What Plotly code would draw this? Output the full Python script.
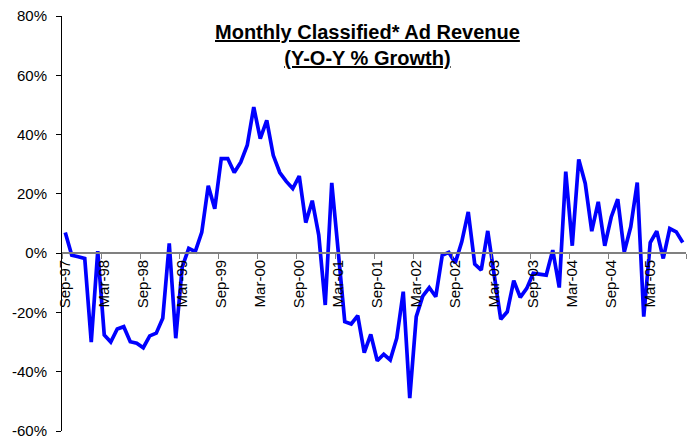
import plotly.graph_objects as go

month_names = ["Jan", "Feb", "Mar", "Apr", "May", "Jun", "Jul", "Aug", "Sep", "Oct", "Nov", "Dec"]
months = []
y, m = 1997, 8
for _ in range(96):
    months.append(f"{month_names[m]}-{str(y)[2:]}")
    m += 1
    if m == 12:
        m = 0
        y += 1

growth = [
    7.0, -0.7, -1.2, -1.8, -30.0, 0.7, -27.6, -30.0, -25.6, -24.8, -29.9, -30.4,
    -31.9, -27.9, -27.0, -22.0, 3.3, -28.7, -4.6, 1.6, 0.5, 7.0, 22.7, 15.0,
    31.9, 31.9, 27.2, 30.7, 36.4, 49.3, 38.6, 44.8, 33.0, 27.2, 24.2, 21.8,
    26.0, 10.3, 17.7, 6.1, -17.5, 23.7, 0.5, -23.1, -23.9, -21.1, -33.6, -27.4,
    -36.3, -34.1, -36.0, -28.7, -13.0, -48.9, -21.4, -14.5, -11.6, -14.7, -0.7, 0.3,
    -3.3, 3.8, 13.9, -3.7, -5.7, 7.5, -7.5, -22.3, -19.8, -9.3, -14.9, -11.9,
    -6.8, -7.2, -7.4, 1.0, -11.6, 27.5, 2.5, 31.6, 23.5, 7.4, 17.3, 2.5,
    12.2, 18.2, 0.4, 8.9, 23.8, -21.4, 3.6, 7.4, -1.8, 8.3, 7.2, 3.6,
]

x_idx = list(range(len(growth)))
tick_idx = [i for i, s in enumerate(months) if s.startswith("Sep") or s.startswith("Mar")]
tick_text = [months[i] for i in tick_idx]

y_ticks = [-60, -40, -20, 0, 20, 40, 60, 80]
y_text = [f"{v}%" for v in y_ticks]

title_text = "<b><u>Monthly Classified* Ad Revenue</u></b><br><b><u>(Y-O-Y % Growth)</u></b>"

font_family = "Arial, Liberation Sans, sans-serif"

fig = go.Figure()
fig.add_trace(go.Scatter(
    x=x_idx, y=growth, mode="lines",
    line=dict(color="#0000FF", width=3.7),
    customdata=months,
    hovertemplate="%{customdata}: %{y:.1f}%<extra></extra>",
))

fig.update_layout(
    width=692, height=439,
    margin=dict(l=62, r=6, t=16, b=8, autoexpand=False),
    paper_bgcolor="white", plot_bgcolor="white",
    showlegend=False,
    font=dict(family=font_family, size=15, color="black"),
    xaxis=dict(
        range=[-0.5, 95.5], automargin=False,
        tickmode="array", tickvals=tick_idx, ticktext=tick_text,
        tickangle=-90, ticks="", showgrid=False, zeroline=False,
        showline=True, linecolor="#808080", linewidth=1.5,
        anchor="free", position=60 / 140,
        tickfont=dict(size=15),
        minor=dict(ticks="outside", ticklen=5, tickcolor="#808080",
                   tickwidth=1, tick0=-0.5, dtick=6, showgrid=False),
    ),
    yaxis=dict(
        range=[-60, 80], automargin=False,
        tickmode="array", tickvals=y_ticks, ticktext=y_text,
        ticks="outside", ticklen=5, tickcolor="black",
        showgrid=False, zeroline=False,
        showline=True, linecolor="black", linewidth=1,
        ticklabelstandoff=6, ticklabeloverflow="allow",
        tickfont=dict(size=15),
    ),
    annotations=[dict(
        text=title_text, xref="paper", yref="paper",
        x=0.49, y=0.992, xanchor="center", yanchor="top",
        showarrow=False, align="center",
        font=dict(size=20, family=font_family, color="black"),
    )],
)

fig.write_html(
    "out.html",
    config={"displayModeBar": False},
    post_script="document.body.style.margin='0';document.body.style.overflow='hidden';",
)
